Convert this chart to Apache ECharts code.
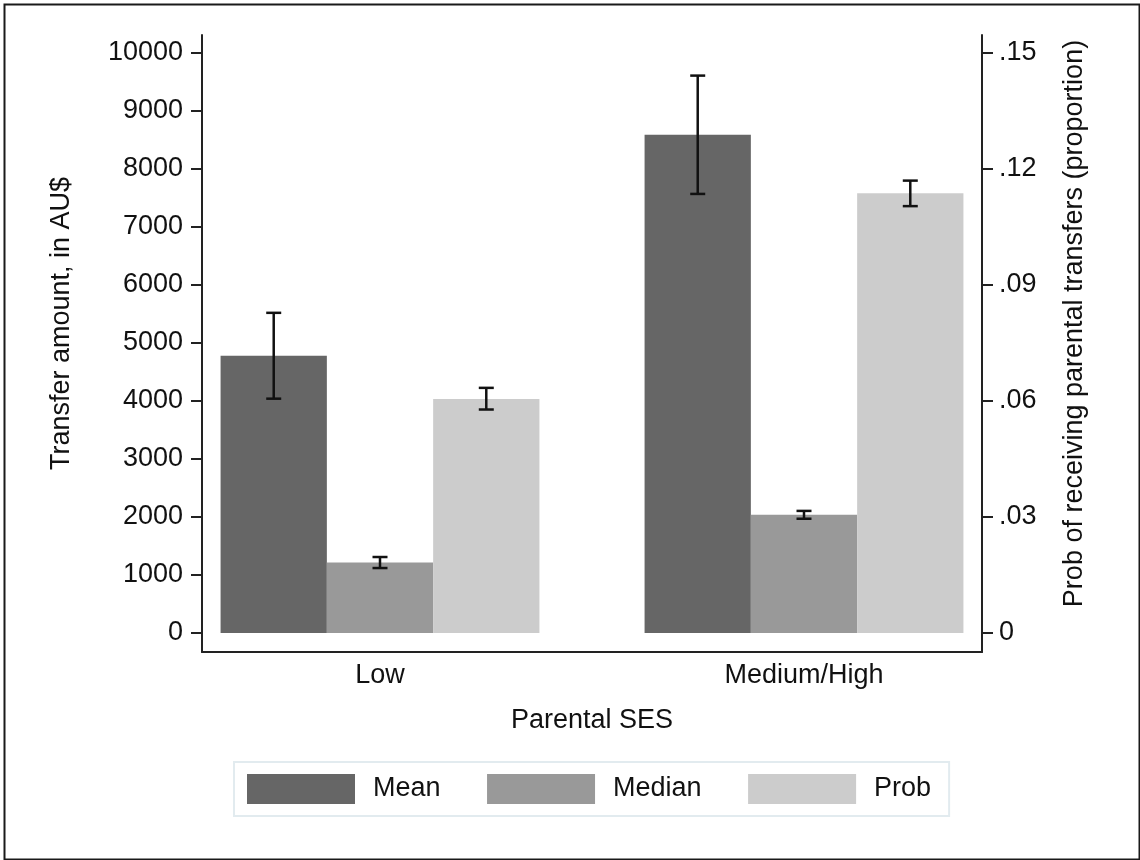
<!DOCTYPE html>
<html><head><meta charset="utf-8">
<script src="https://cdn.jsdelivr.net/npm/echarts@6/dist/echarts.min.js"></script>
<style>html,body{margin:0;padding:0;background:#fff}#chart{width:1140px;height:860px}</style>
</head><body><div id="chart"></div>
<script>
const categories = ['Low', 'Medium/High'];
const seriesNames = ['Mean', 'Median', 'Prob'];
const meanValues = [4780, 8590];
const meanLow = [4040, 7570];
const meanHigh = [5520, 9610];
const medianValues = [1215, 2040];
const medianLow = [1120, 1970];
const medianHigh = [1310, 2105];
const probValues = [0.0605, 0.1137];
const probLow = [0.0578, 0.1104];
const probHigh = [0.0634, 0.1170];
const leftTicks = [0, 1000, 2000, 3000, 4000, 5000, 6000, 7000, 8000, 9000, 10000];
const rightTicks = [0, 0.03, 0.06, 0.09, 0.12, 0.15];
const barColors = ['#666666', '#999999', '#cccccc'];

const FONT = '"Liberation Sans", Arial, sans-serif';
const FS = 27;
const GAP = 0.248;
const AX = '#222';

function errorSeries(name, idx, lows, highs, yAxisIndex) {
  return {
    type: 'custom', name: name + ' CI', xAxisIndex: 0, yAxisIndex: yAxisIndex,
    data: categories.map((c, i) => [i, lows[i], highs[i]]),
    encode: { x: 0, y: [1, 2] },
    z: 10, silent: true,
    renderItem: function (params, api) {
      const band = api.size([1, 0])[0];
      const barW = band * (1 - GAP) / 3;
      const off = (idx - 1) * barW;
      const lo = api.coord([api.value(0), api.value(1)]);
      const hi = api.coord([api.value(0), api.value(2)]);
      const x = lo[0] + off;
      const cap = 7.5;
      const style = { stroke: '#111', lineWidth: 2.5 };
      return { type: 'group', children: [
        { type: 'line', shape: { x1: x, y1: hi[1], x2: x, y2: lo[1] }, style: style },
        { type: 'line', shape: { x1: x - cap, y1: hi[1], x2: x + cap, y2: hi[1] }, style: style },
        { type: 'line', shape: { x1: x - cap, y1: lo[1], x2: x + cap, y2: lo[1] }, style: style }
      ] };
    }
  };
}

const chart = echarts.init(document.getElementById('chart'), null, { renderer: 'canvas' });
const textBase = { fontFamily: FONT, fontSize: FS, color: '#111' };

chart.setOption({
  backgroundColor: '#fff',
  animation: false,
  graphic: [{
    type: 'rect', left: 2, top: 2, shape: { width: 1135, height: 855 },
    style: { fill: 'none', stroke: '#1a1a1a', lineWidth: 2 }, z: 100, silent: true
  }],
  legend: {
    data: seriesNames,
    left: 234, top: 762,
    orient: 'horizontal',
    padding: [12, 18, 12, 13],
    borderColor: '#e2ebef', borderWidth: 2,
    itemWidth: 108, itemHeight: 30, itemGap: 46.5,
    icon: 'rect',
    selectedMode: false,
    textStyle: Object.assign({}, textBase, { padding: [0, 0, 0, 13] })
  },
  grid: [
    { left: 168, right: 124, top: 35, bottom: 208, outerBoundsMode: 'none' },
    { left: 202, right: 158, top: 35, bottom: 208, outerBoundsMode: 'none' }
  ],
  xAxis: [
    {
      type: 'category', gridIndex: 0, data: categories,
      axisLine: { show: false }, axisTick: { show: false },
      axisLabel: Object.assign({}, textBase, { margin: 10 }),
      name: 'Parental SES', nameLocation: 'middle', nameGap: 55,
      nameTextStyle: textBase
    },
    {
      type: 'value', gridIndex: 1, min: 0, max: 1,
      axisLine: { show: true, lineStyle: { color: AX, width: 2 } },
      axisTick: { show: false }, axisLabel: { show: false }, splitLine: { show: false }
    }
  ],
  yAxis: [
    {
      type: 'value', gridIndex: 0, position: 'left', offset: -34,
      min: -327.6, max: 10310,
      axisLine: { show: true, lineStyle: { color: AX, width: 2 } },
      axisTick: { show: true, length: 11, customValues: leftTicks, lineStyle: { color: AX, width: 2 } },
      axisLabel: Object.assign({}, textBase, {
        customValues: leftTicks, margin: 19,
        formatter: function (v) { return String(Math.round(v)); }
      }),
      splitLine: { show: false },
      name: 'Transfer amount, in AU$', nameLocation: 'middle', nameGap: 127, nameRotate: 90,
      nameTextStyle: Object.assign({}, textBase, { padding: [0, 0, 0, 40] })
    },
    {
      type: 'value', gridIndex: 0, position: 'right', offset: -34,
      min: -0.004914, max: 0.15466,
      axisLine: { show: true, lineStyle: { color: AX, width: 2 } },
      axisTick: { show: true, length: 11, customValues: rightTicks, lineStyle: { color: AX, width: 2 } },
      axisLabel: Object.assign({}, textBase, {
        customValues: rightTicks, margin: 17,
        formatter: function (v) { return v === 0 ? '0' : v.toFixed(2).replace(/^0/, ''); }
      }),
      splitLine: { show: false },
      name: 'Prob of receiving parental transfers (proportion)', nameLocation: 'middle', nameGap: 79, nameRotate: 90,
      nameTextStyle: Object.assign({}, textBase, { padding: [0, 0, 0, 40] })
    },
    { type: 'value', gridIndex: 1, show: false, min: 0, max: 1 }
  ],
  series: [
    { type: 'bar', name: 'Mean', xAxisIndex: 0, yAxisIndex: 0, data: meanValues,
      barGap: '0%', barCategoryGap: (GAP * 100) + '%', itemStyle: { color: barColors[0] } },
    { type: 'bar', name: 'Median', xAxisIndex: 0, yAxisIndex: 0, data: medianValues,
      barGap: '0%', barCategoryGap: (GAP * 100) + '%', itemStyle: { color: barColors[1] } },
    { type: 'bar', name: 'Prob', xAxisIndex: 0, yAxisIndex: 1, data: probValues,
      barGap: '0%', barCategoryGap: (GAP * 100) + '%', itemStyle: { color: barColors[2] } },
    errorSeries('Mean', 0, meanLow, meanHigh, 0),
    errorSeries('Median', 1, medianLow, medianHigh, 0),
    errorSeries('Prob', 2, probLow, probHigh, 1)
  ]
});
</script></body></html>
